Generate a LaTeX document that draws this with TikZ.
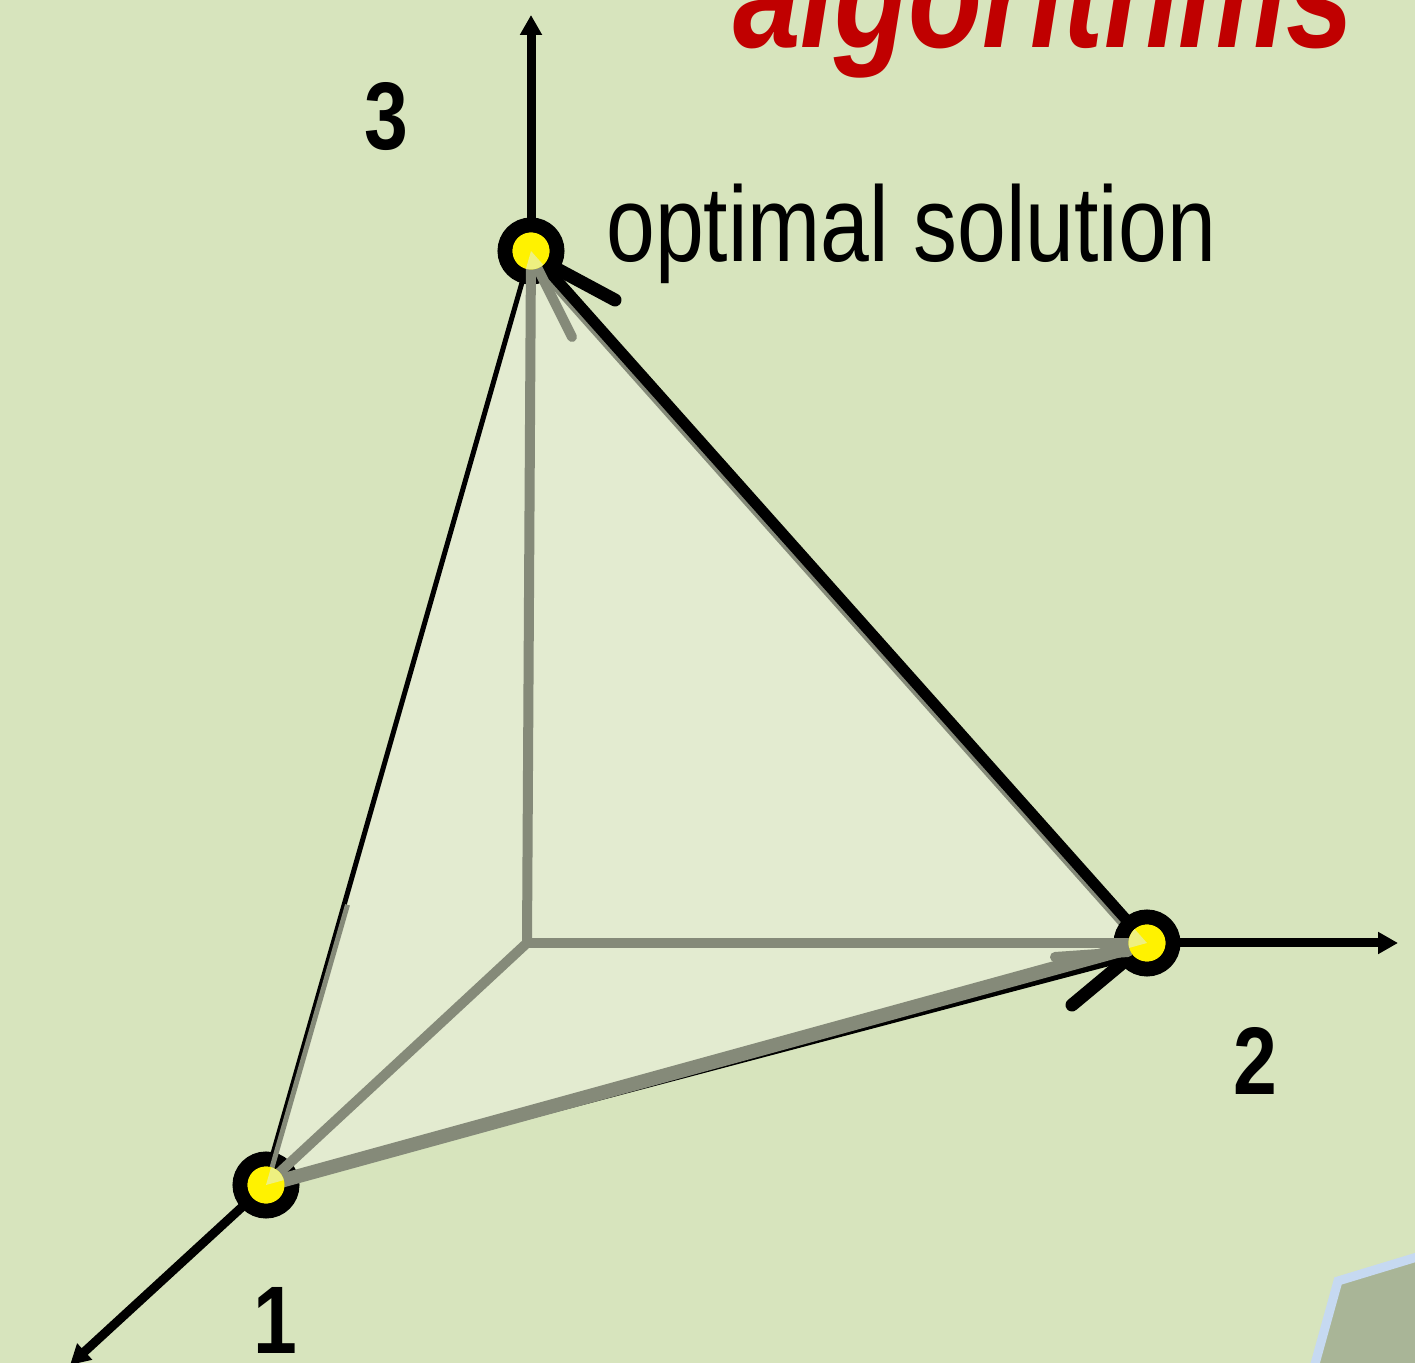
\documentclass[tikz,border=0pt]{standalone}
\usepackage{fontspec}
\setmainfont{Liberation Sans}
\newfontfamily\narrowfont[FakeStretch=0.82]{Liberation Sans}
\usetikzlibrary{calc,arrows.meta}
\definecolor{bg}{HTML}{D7E4BD}
\definecolor{facecol}{HTML}{E3EBD0}
\definecolor{edgegray}{HTML}{858A79}
\definecolor{wedgecol}{HTML}{EEF080}
\definecolor{titlered}{HTML}{C00000}
\definecolor{polyblue}{HTML}{C6D9F1}
\definecolor{polyfill}{HTML}{A9B597}
\begin{document}
\begin{tikzpicture}[x=0.5pt,y=-0.5pt,
  axisline/.style={line width=4.5pt,-{Triangle[length=10pt,width=10.5pt]}},
  grayline/.style={edgegray,line width=5pt},
  barb/.style={line width=6.5pt,line cap=round},
  graybarb/.style={edgegray,line width=5pt,line cap=round},
  vertex/.style={circle,draw=black,fill=yellow,line width=7.5pt,minimum size=26pt,inner sep=0pt},
  digit/.style={inner sep=0pt,font=\narrowfont\bfseries\fontsize{48pt}{48pt}\selectfont},
  ]
\useasboundingbox (0,0) rectangle (1415,1363);
\clip (0,0) rectangle (1415,1363);
\fill[bg] (0,0) rectangle (1415,1363);

% corner shape bottom right
\draw[polyblue,fill=polyfill,line width=4.5pt,line join=miter] (1450,1247) -- (1338,1281) -- (1305,1400) -- (1450,1400) -- cycle;

% title
\node[anchor=base west,inner sep=0pt,text=titlered,font=\narrowfont\bfseries\itshape\fontsize{74pt}{74pt}\selectfont] (title) at (733,48) {algorithms};

% coordinates
\coordinate (O) at (527,943);
\coordinate (p1) at (266,1185);
\coordinate (p2) at (1147,943);
\coordinate (p3) at (531,251);
\coordinate (a1) at (70,1365);
\coordinate (a2) at (1398,943);
\coordinate (a3) at (531,15);

% face
\fill[facecol] (p1) -- (p2) -- (p3) -- cycle;

% gray shadow of edge 2-3
\draw[grayline] ($(p2)+(-3,3)$) -- ($(p3)+(-3,3)$);

% axes
\draw[axisline] (p3) -- (a3);
\draw[axisline] (p2) -- (a2);
\draw[axisline] (p1) -- (a1);

% black edges
\draw[line width=2.5pt] ($(p1)+(-2,0)$) -- (p3);
\draw[line width=5.5pt] (p2) -- (p3);
\coordinate (tip2) at (1130,957);
\draw[line width=3.5pt] (p1) -- (tip2);
\coordinate (b3) at (615,300);
\draw[barb] (b3) -- ($(p3)+(2,5)$);
\coordinate (b2) at (1072,1005);
\draw[barb] (b2) -- (1126,960);

% vertices
\node[vertex] (v1) at (p1) {};
\node[vertex] (v2) at (p2) {};
\node[vertex] (v3) at (p3) {};

% gray tetrahedron edges
\draw[grayline] (O) -- (v1.center);
\draw[grayline] (O) -- (v2.center);
\draw[grayline] (O) -- (v3.center);
\draw[edgegray,line width=7pt] (v1.center) -- (1135,946);
\draw[edgegray,line width=2.5pt] ($(p1)+(1,0)$) -- ($(p1)!0.3!(p3)+(2,0)$);
\coordinate (g3) at (572,337);
\draw[graybarb] (g3) -- ($(p3)+(2,8)$);
\coordinate (g2) at (1055,957);
\draw[graybarb] (g2) -- (1128,952);

% yellow cores and light wedges
\foreach \p in {p1,p2,p3}{
  \fill[yellow] (\p) circle (18.5);
  \begin{scope}
    \clip (\p) circle (18.5);
    \fill[wedgecol] (p1) -- (p2) -- (p3) -- cycle;
  \end{scope}
}

% labels
\node[digit] (l3) at (386,117) {3};
\node[digit] (l2) at (1255,1061) {2};
\node[digit] (l1) at (275,1320) {1};
\node[anchor=base west,inner sep=0pt,font=\narrowfont\fontsize{53.5pt}{53.5pt}\selectfont] (opt) at (606,262) {optimal solution};
\end{tikzpicture}
\end{document}
